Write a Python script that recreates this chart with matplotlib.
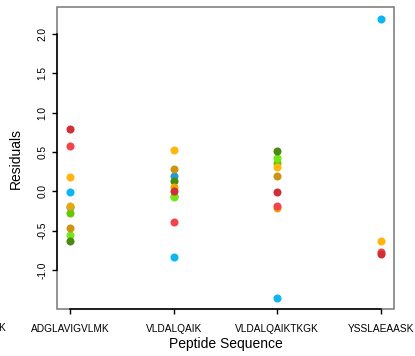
import numpy as np
import matplotlib.pyplot as plt
from matplotlib.patches import Rectangle
from matplotlib.transforms import blended_transform_factory

plt.rcParams['font.family'] = ['Liberation Sans', 'DejaVu Sans']
plt.rcParams['axes.unicode_minus'] = False

peptides = ['ADGLAVIGVLMK', 'VLDALQAIK', 'VLDALQAIKTKGK', 'YSSLAEAASK']
nan = np.nan

# residuals per sample, one value per peptide (drawing order matters for overlaps)
blue2 = [-0.20, 0.20, nan, nan]
green = [-0.28, -0.06, 0.36, nan]
lime = [-0.56, -0.07, 0.42, nan]
darkgreen = [-0.63, 0.13, 0.51, nan]
gold = [-0.47, 0.28, 0.20, nan]
yellow = [0.18, 0.52, 0.31, -0.63]
orange = [-0.19, 0.05, -0.21, nan]
cyan = [-0.01, -0.84, -1.35, 2.19]
red = [0.58, -0.39, -0.19, -0.77]
darkred = [0.79, 0.00, -0.005, -0.80]

series = [
    (blue2, '#1E9BDB'),
    (green, '#66C800'),
    (lime, '#74E61A'),
    (darkgreen, '#4B8A0C'),
    (gold, '#CC9414'),
    (yellow, '#FFB50E'),
    (orange, '#EBA60A'),
    (cyan, '#0BB6F2'),
    (red, '#F2444A'),
    (darkred, '#CF3036'),
]

fig = plt.figure(figsize=(4.15, 3.56), dpi=100)
ax = fig.add_axes([0.1373, 0.132, 0.8117, 0.847])

x = np.arange(1, len(peptides) + 1)
for vals, col in series:
    ax.plot(x, vals, 'o', ms=5.8, color=col, mec='none')

ax.set_xlim(0.875, 4.125)
ax.set_ylim(-1.496, 2.337)

# R style: grey box, black axis lines between first and last tick
ax.add_patch(Rectangle((0, 0), 1, 1, transform=ax.transAxes, fill=False,
                       ec='#777777', lw=1.1, zorder=0, clip_on=False))
for s in ['top', 'right']:
    ax.spines[s].set_visible(False)
ax.spines['left'].set_bounds(-1.0, 2.0)
ax.spines['bottom'].set_bounds(1, 4)
for s in ['left', 'bottom']:
    ax.spines[s].set_color('black')
    ax.spines[s].set_linewidth(1.1)

ax.set_yticks([-1.0, -0.5, 0.0, 0.5, 1.0, 1.5, 2.0])
ax.set_yticklabels(['-1.0', '-0.5', '0.0', '0.5', '1.0', '1.5', '2.0'],
                   rotation=90, va='center', fontsize=7.3)
ax.set_xticks(x)
ax.set_xticklabels(peptides, fontsize=7.3)
ax.tick_params(axis='both', length=3.8, width=1, color='black')
ax.tick_params(axis='y', pad=3.2)
ax.tick_params(axis='x', pad=6.8)

# partial label of a category that sits outside the plot region
trans = blended_transform_factory(ax.transData, ax.transAxes)
ax.annotate('K', xy=(0, 0), xycoords=trans, xytext=(28, -13.5),
            textcoords='offset points', ha='right', va='center',
            fontsize=7.3, annotation_clip=False)

ax.set_xlabel('Peptide Sequence', fontsize=10, labelpad=2.5)
ax.set_ylabel('Residuals', fontsize=10, labelpad=10)

fig.savefig('out.png', dpi=100)
